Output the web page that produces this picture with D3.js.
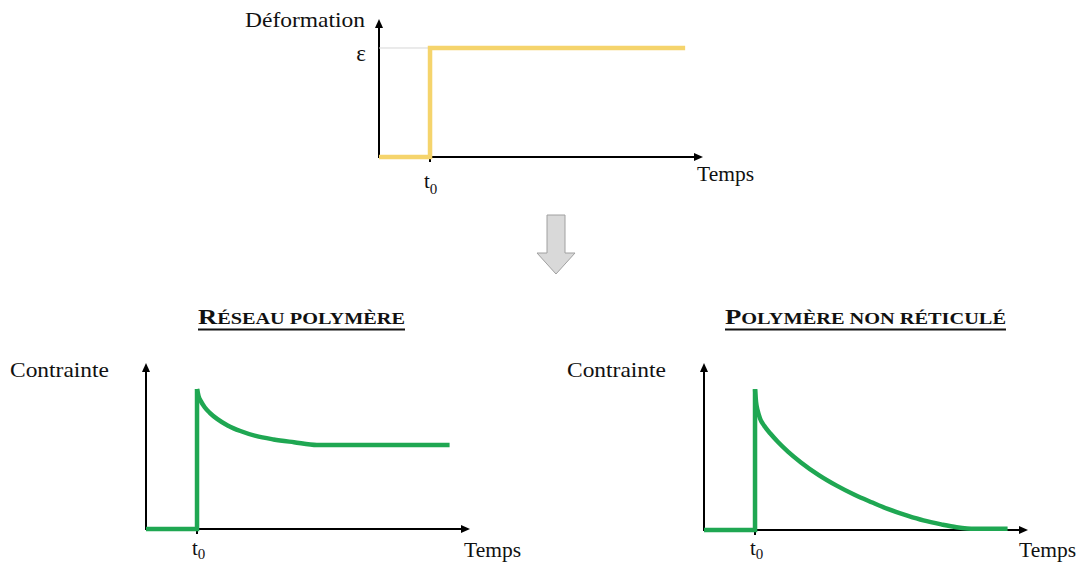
<!DOCTYPE html>
<html>
<head>
<meta charset="utf-8">
<script src="https://cdn.jsdelivr.net/npm/d3@7"></script>
<style>
  html, body { margin: 0; padding: 0; background: #fff; }
  svg { display: block; }
  text { font-family: 'Liberation Serif', 'Times New Roman', serif; fill: #111; }
</style>
</head>
<body>
<svg id="chart" width="1085" height="564"></svg>
<script>
// ---------- data ----------
// top panel: imposed strain step (time in units of t0)
const deformT = [0, 1, 1, 6.0];
const deformE = [0, 0, 1, 1];

// bottom-left: cross-linked network (stress relaxes to a plateau)
const reseauT = [0, 1, 1, 1.03, 1.08, 1.15, 1.25, 1.4, 1.6, 1.85, 2.15, 2.5, 2.9, 3.35, 5.95];
const reseauS = [0, 0, 1, 0.95, 0.91, 0.87, 0.83, 0.785, 0.74, 0.70, 0.665, 0.64, 0.62, 0.60, 0.60];

// bottom-right: non cross-linked polymer (stress relaxes to zero)
const nonRetT = [0, 1, 1, 1.02, 1.05, 1.1, 1.18, 1.3, 1.45, 1.65, 1.9, 2.25, 2.6, 2.95, 3.3, 3.6, 4.0, 4.3, 4.65, 4.95, 5.3, 5.95];
const nonRetS = [0, 0, 1, 0.91, 0.85, 0.79, 0.74, 0.685, 0.625, 0.555, 0.48, 0.39, 0.315, 0.25, 0.195, 0.15, 0.10, 0.068, 0.04, 0.02, 0.008, 0.008];

const titles = ["Réseau polymère", "Polymère non réticulé"];
const yLabels = ["Déformation", "Contrainte", "Contrainte"];
const xLabel = "Temps";
const epsLabel = "ε";
const t0Label = ["t", "0"];

// ---------- drawing ----------
const svg = d3.select("#chart");
const YELLOW = "#f5d46c", GREEN = "#1fa752";

function panel(cfg) {
  const g = svg.append("g");
  const x = d3.scaleLinear().domain([0, 6.35]).range([cfg.x0, cfg.x0 + 324]);
  const y = d3.scaleLinear().domain([0, cfg.yMax]).range([cfg.y0, cfg.yTop]);
  const ax0 = x(0), ay0 = y(0), xTip = x(6.35), yTip = y(cfg.yMax);

  // axes
  g.append("line").attr("x1", ax0).attr("y1", ay0 + 1).attr("x2", ax0).attr("y2", yTip + 6)
    .attr("stroke", "#000").attr("stroke-width", 2);
  g.append("line").attr("x1", ax0 - 1).attr("y1", ay0).attr("x2", xTip - 6).attr("y2", ay0)
    .attr("stroke", "#000").attr("stroke-width", 2);
  g.append("path").attr("d", `M${ax0},${yTip} L${ax0 - 4},${yTip + 9} L${ax0 + 4},${yTip + 9} Z`).attr("fill", "#000");
  g.append("path").attr("d", `M${xTip},${ay0} L${xTip - 9},${ay0 - 4} L${xTip - 9},${ay0 + 4} Z`).attr("fill", "#000");

  // t0 tick
  g.append("line").attr("x1", x(1)).attr("x2", x(1)).attr("y1", ay0).attr("y2", ay0 + 5)
    .attr("stroke", "#000").attr("stroke-width", 2);

  return { g, x, y, ay0 };
}

// ---- top panel ----
const topP = panel({ x0: 379, y0: 157, yTop: 19, yMax: 1.266 });
// guide line at epsilon
topP.g.append("line").attr("x1", topP.x(0)).attr("x2", topP.x(1)).attr("y1", topP.y(1)).attr("y2", topP.y(1))
  .attr("stroke", "#d6d6d6").attr("stroke-width", 1);
topP.g.append("path")
  .attr("d", d3.line().x((d, i) => topP.x(deformT[i])).y((d, i) => topP.y(deformE[i]))(deformT))
  .attr("fill", "none").attr("stroke", YELLOW).attr("stroke-width", 4.5).attr("stroke-linejoin", "miter");
topP.g.append("text").attr("x", 245).attr("y", 27).attr("font-size", 21)
  .attr("textLength", 120).attr("lengthAdjust", "spacingAndGlyphs").text(yLabels[0]);
topP.g.append("text").attr("x", 361).attr("y", 61).attr("font-size", 23).attr("text-anchor", "middle").text(epsLabel);
topP.g.append("text").attr("x", 697).attr("y", 181).attr("font-size", 22)
  .attr("textLength", 57).attr("lengthAdjust", "spacingAndGlyphs").text(xLabel);
{
  const t = topP.g.append("text").attr("x", topP.x(1) - 6).attr("y", 188).attr("font-size", 21);
  t.append("tspan").text(t0Label[0]);
  t.append("tspan").attr("font-size", 15).attr("dy", 6).text(t0Label[1]);
}

// ---- down arrow ----
svg.append("path")
  .attr("d", "M547,215 L565,215 L565,253 L575,253 L556,274 L537,253 L547,253 Z")
  .attr("fill", "#d9d9d9").attr("stroke", "#a0a0a0").attr("stroke-width", 1);

// ---- bottom panels ----
function stressPanel(cfg, T, S) {
  const p = panel({ x0: cfg.x0, y0: cfg.y0, yTop: 363, yMax: 1.186 });
  const stepIdx = [0, 1, 2];
  p.g.append("path")
    .attr("d", d3.line().x(i => p.x(T[i])).y(i => p.y(S[i]))(stepIdx))
    .attr("fill", "none").attr("stroke", GREEN).attr("stroke-width", 4.5).attr("stroke-linejoin", "miter");
  const curveIdx = d3.range(2, T.length);
  p.g.append("path")
    .attr("d", d3.line().x(i => p.x(T[i])).y(i => p.y(S[i])).curve(d3.curveMonotoneX)(curveIdx))
    .attr("fill", "none").attr("stroke", GREEN).attr("stroke-width", 4.5).attr("stroke-linecap", "butt");

  // labels
  p.g.append("text").attr("x", cfg.labelX).attr("y", 377).attr("font-size", 22)
    .attr("textLength", 99).attr("lengthAdjust", "spacingAndGlyphs").text(yLabels[1]);
  p.g.append("text").attr("x", cfg.tempsX).attr("y", 557).attr("font-size", 22)
    .attr("textLength", 57).attr("lengthAdjust", "spacingAndGlyphs").text(xLabel);
  const t = p.g.append("text").attr("x", p.x(1) - 5).attr("y", 555).attr("font-size", 21);
  t.append("tspan").text(t0Label[0]);
  t.append("tspan").attr("font-size", 15).attr("dy", 4).text(t0Label[1]);

  // title in small caps, bold, underlined
  const title = cfg.title;
  const tt = p.g.append("text").attr("x", cfg.titleX0).attr("y", 324).attr("font-weight", "bold")
    .attr("textLength", cfg.titleX1 - cfg.titleX0).attr("lengthAdjust", "spacingAndGlyphs");
  tt.append("tspan").attr("font-size", 21).text(title[0].toUpperCase());
  tt.append("tspan").attr("font-size", 16).text(title.slice(1).toUpperCase());
  p.g.append("line").attr("x1", cfg.titleX0).attr("x2", cfg.titleX1).attr("y1", 329.5).attr("y2", 329.5)
    .attr("stroke", "#111").attr("stroke-width", 1.8);
  return p;
}

stressPanel({ x0: 146, y0: 529, labelX: 10, tempsX: 464, title: titles[0], titleX0: 198, titleX1: 405 }, reseauT, reseauS);
stressPanel({ x0: 704, y0: 530, labelX: 567, tempsX: 1019, title: titles[1], titleX0: 725, titleX1: 1006 }, nonRetT, nonRetS);
</script>
</body>
</html>
